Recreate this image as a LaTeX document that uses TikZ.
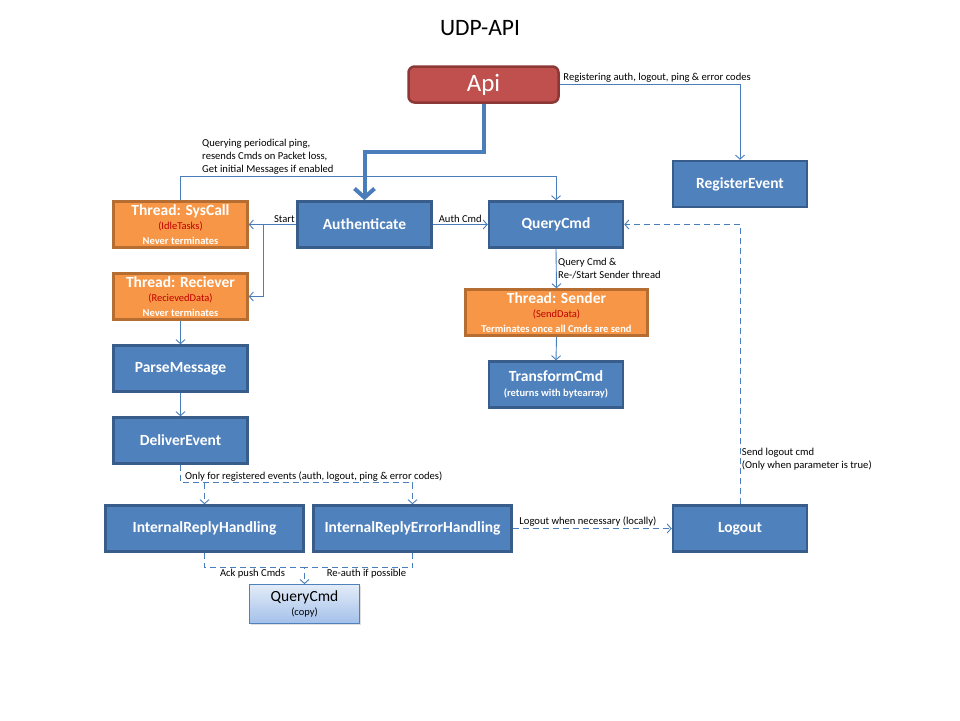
\documentclass[tikz,border=0pt]{standalone}
\usepackage{fontspec}
\setmainfont{Carlito}
\usetikzlibrary{positioning,arrows.meta,calc,shadows}
\definecolor{boxBlue}{HTML}{4F81BD}
\definecolor{boxBlueLine}{HTML}{385D8A}
\definecolor{threadOrange}{HTML}{F79646}
\definecolor{threadOrangeLine}{HTML}{B66D31}
\definecolor{apiRed}{HTML}{C0504D}
\definecolor{apiRedLine}{HTML}{8C3836}
\definecolor{lineBlue}{HTML}{4A7EBB}
\definecolor{taskRed}{HTML}{C00000}
\definecolor{copyTop}{HTML}{E3ECF8}
\definecolor{copyBottom}{HTML}{A3C0EA}
\tikzstyle{boxStyle} = [draw=boxBlueLine, fill=boxBlue, line width=2.5pt, text=white, font=\fontsize{15.5}{17}\selectfont\bfseries, align=center, inner sep=0pt, minimum width=134pt, minimum height=46pt]
\tikzstyle{threadStyle} = [boxStyle, draw=threadOrangeLine, fill=threadOrange]
\tikzstyle{wideStyle} = [boxStyle, minimum width=198pt]
\tikzstyle{apiStyle} = [draw=apiRedLine, fill=apiRed, line width=2.5pt, rounded corners=6pt, text=white, font=\fontsize{25}{27}\selectfont, minimum width=150pt, minimum height=36pt]
\tikzstyle{copyStyle} = [draw=boxBlue, line width=0.8pt, top color=copyTop, bottom color=copyBottom, text=black, font=\fontsize{15.5}{16}\selectfont, align=center, inner sep=0pt, minimum width=110pt, minimum height=39pt, drop shadow={opacity=0.25, shadow xshift=1pt, shadow yshift=-1.5pt}]
\tikzstyle{flow} = [draw=lineBlue, line width=0.9pt, -{Straight Barb[length=4pt,width=9pt]}]
\tikzstyle{flowDashed} = [flow, dash pattern=on 6pt off 4pt]
\tikzstyle{mainFlow} = [draw=lineBlue, line width=4pt, -{Straight Barb[length=9pt,width=20pt]}]
\tikzstyle{noteText} = [font=\fontsize{10.6}{13}\selectfont, text=black, inner sep=1.5pt, align=left]
\newcommand{\taskName}[1]{{\fontsize{10.5}{11}\selectfont\mdseries\color{taskRed}(#1)}}
\newcommand{\smallNote}[1]{{\fontsize{10.5}{11}\selectfont #1}}

\begin{document}
\begin{tikzpicture}[x=1pt, y=-1pt]
  \useasboundingbox (0,0) rectangle (960,720);
  \node (title) at (480,28) {\fontsize{23.5}{25}\selectfont UDP-API};

  % boxes
  \node[apiStyle] (api) at (483.5,84.5) {Api};
  \node[boxStyle] (regEvent) at (740,184) {RegisterEvent};
  \node[threadStyle] (sysCall) at (180.5,224.5) {Thread: SysCall\\[-3pt]\taskName{IdleTasks}\\[-2pt]\smallNote{Never terminates}};
  \node[boxStyle] (auth) at (364.5,224.5) {Authenticate};
  \node[boxStyle] (queryCmd) at (556,224.5) {QueryCmd};
  \node[threadStyle] (reciever) at (180.5,296.5) {Thread: Reciever\\[-3pt]\taskName{RecievedData}\\[-2pt]\smallNote{Never terminates}};
  \node[threadStyle, minimum width=182pt] (sender) at (556.5,312.5) {Thread: Sender\\[-3pt]\taskName{SendData}\\[-2pt]\smallNote{Terminates once all Cmds are send}};
  \node[boxStyle] (parseMsg) at (180.5,368.5) {ParseMessage};
  \node[boxStyle] (transformCmd) at (556,384.5) {TransformCmd\\[-2pt]\smallNote{(returns with bytearray)}};
  \node[boxStyle] (deliverEvent) at (180.5,440.5) {DeliverEvent};
  \node[wideStyle] (irh) at (204.5,528.5) {InternalReplyHandling};
  \node[wideStyle] (ireh) at (412.5,528.5) {InternalReplyErrorHandling};
  \node[boxStyle] (logout) at (740,528.5) {Logout};
  \node[copyStyle] (queryCopy) at (304.5,604) {QueryCmd\\[-2pt]{\fontsize{10.5}{11}\selectfont(copy)}};

  % connectors
  \draw[mainFlow] (api.south) -- ++(0,48) -| (auth.north);
  \draw[flow] (api.east) -| (regEvent.north);
  \node[noteText, anchor=south west] (regNote) at ([xshift=2pt]api.east) {Registering auth, logout, ping \& error codes};

  \draw[flow] (sysCall.north) -- ++(0,-24) coordinate (pingTurn) -| (queryCmd.north);
  \node[noteText, anchor=south west] (pingNote) at ([xshift=20pt]pingTurn) {Querying periodical ping,\\resends Cmds on Packet loss,\\Get initial Messages if enabled};

  \draw[flow] (auth.west) -- (sysCall.east) node[noteText, pos=0.25, above] (startNote) {Start};
  \draw[flow] ($(sysCall.east)!0.3!(auth.west)$) |- (reciever.east);
  \draw[flow] (auth.east) -- (queryCmd.west) node[noteText, midway, above] (authNote) {Auth Cmd};
  \draw[flow] (queryCmd.south) -- (sender.north) node[noteText, midway, right] (senderNote) {Query Cmd \&\\Re-/Start Sender thread};
  \draw[flow] (sender.south) -- (transformCmd.north);
  \draw[flow] (reciever.south) -- (parseMsg.north);
  \draw[flow] (parseMsg.south) -- (deliverEvent.north);

  \draw[flowDashed] (deliverEvent.south) -- ++(0,18) coordinate (eventSplit) -| (ireh.north);
  \draw[flowDashed] (eventSplit -| irh.north) -- (irh.north);
  \node[noteText, anchor=south west] (eventNote) at ([xshift=3pt]eventSplit) {Only for registered events (auth, logout, ping \& error codes)};

  \draw[flowDashed] (irh.south) -- ++(0,15) coordinate (ackJoin) -| (queryCopy.north);
  \draw[flowDashed, -] (ireh.south) |- (ackJoin -| queryCopy.north);
  \node[noteText, anchor=north] (ackNote) at ([xshift=-2pt]$(ackJoin)!0.5!(ackJoin -| queryCopy.north)$) {Ack push Cmds};
  \node[noteText, anchor=north] (reauthNote) at ([xshift=8pt]$(ackJoin -| queryCopy.north)!0.5!(ackJoin -| ireh.south)$) {Re-auth if possible};

  \draw[flowDashed] (ireh.east) -- (logout.west) node[noteText, pos=0.03, anchor=south west] (logoutNote) {Logout when necessary (locally)};
  \draw[flowDashed] (logout.north) |- (queryCmd.east) node[noteText, pos=0.08, anchor=west] (sendNote) {Send logout cmd\\(Only when parameter is true)};
\end{tikzpicture}
\end{document}
